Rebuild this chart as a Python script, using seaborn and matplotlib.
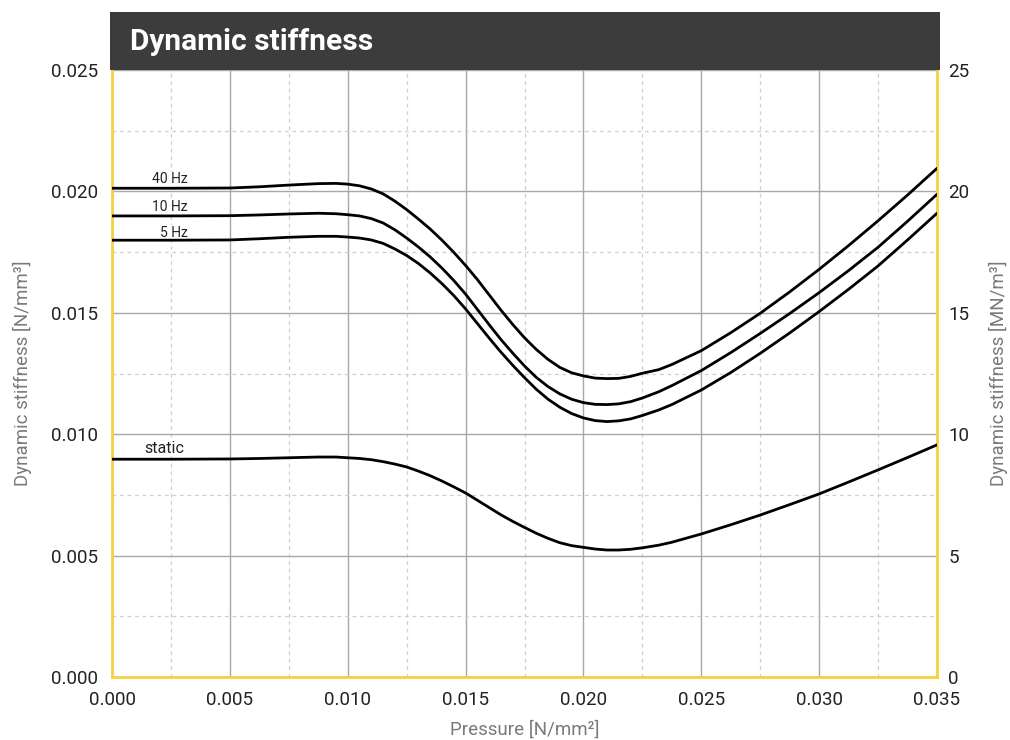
import pandas as pd
import numpy as np
import matplotlib
matplotlib.use("Agg")
import matplotlib.pyplot as plt
from matplotlib.patches import Rectangle
from matplotlib.ticker import MultipleLocator
import seaborn as sns

# valores
pressure = [0.0, 0.0025, 0.005, 0.00625, 0.0075, 0.00875, 0.0095,
            0.010, 0.0105, 0.011, 0.0115, 0.012, 0.0125, 0.013, 0.0135, 0.014, 0.0145,
            0.015, 0.0155, 0.016, 0.0165, 0.017, 0.0175, 0.018, 0.0185, 0.019, 0.0195,
            0.020, 0.0205, 0.021, 0.0215, 0.022, 0.0225, 0.0232,
            0.02375, 0.025, 0.02625, 0.0275, 0.02875, 0.030, 0.03125, 0.0325, 0.03375, 0.035]
hz40 = [0.02013, 0.02013, 0.02014, 0.02019, 0.02026, 0.02032, 0.02033,
        0.02030, 0.02023, 0.02010, 0.01990, 0.01960, 0.01925, 0.01886, 0.01845, 0.01799, 0.01749,
        0.01695, 0.01637, 0.01574, 0.01511, 0.01452, 0.01397, 0.01349, 0.01308, 0.01275, 0.01253,
        0.01240, 0.01231, 0.01229, 0.01230, 0.01238, 0.01251, 0.01266,
        0.01287, 0.01344, 0.01418, 0.01498, 0.01586, 0.01679, 0.01777, 0.01879, 0.01985, 0.02095]
hz10 = [0.01899, 0.01899, 0.01900, 0.01903, 0.01907, 0.01910, 0.01908,
        0.01904, 0.01899, 0.01888, 0.01870, 0.01842, 0.01808, 0.01771, 0.01730, 0.01684, 0.01633,
        0.01577, 0.01514, 0.01451, 0.01390, 0.01334, 0.01281, 0.01234, 0.01196, 0.01166, 0.01144,
        0.01130, 0.01123, 0.01122, 0.01125, 0.01134, 0.01149, 0.01175,
        0.01200, 0.01262, 0.01336, 0.01415, 0.01497, 0.01583, 0.01674, 0.01770, 0.01877, 0.01988]
hz5 = [0.01799, 0.01799, 0.01800, 0.01805, 0.01811, 0.01815, 0.01815,
       0.01812, 0.01808, 0.01800, 0.01786, 0.01763, 0.01736, 0.01703, 0.01664, 0.01620, 0.01571,
       0.01516, 0.01456, 0.01396, 0.01338, 0.01284, 0.01233, 0.01185, 0.01144, 0.01111, 0.01085,
       0.01067, 0.01056, 0.01052, 0.01055, 0.01063, 0.01077, 0.01100,
       0.01122, 0.01182, 0.01254, 0.01333, 0.01417, 0.01505, 0.01597, 0.01693, 0.01800, 0.01910]
static = [0.00897, 0.00897, 0.00898, 0.00900, 0.00903, 0.00906, 0.00906,
          0.00903, 0.00900, 0.00895, 0.00887, 0.00877, 0.00865, 0.00848, 0.00829, 0.00807, 0.00783,
          0.00758, 0.00728, 0.00698, 0.00668, 0.00641, 0.00616, 0.00592, 0.00571, 0.00553, 0.00541,
          0.00534, 0.00527, 0.00523, 0.00523, 0.00526, 0.00532, 0.00543,
          0.00555, 0.00589, 0.00627, 0.00667, 0.00710, 0.00754, 0.00803, 0.00853, 0.00904, 0.00956]

series = {"40 Hz": hz40, "10 Hz": hz10, "5 Hz": hz5, "static": static}
df = pd.concat([pd.DataFrame({"pressure": pressure, "stiffness": v, "curve": k})
                for k, v in series.items()], ignore_index=True)

sns.set_style("white")
plt.rcParams["font.family"] = ["Roboto", "DejaVu Sans"]

yellow = "#f7d23e"
grey_txt = "#7a7a7a"

fig = plt.figure(figsize=(10.1, 7.4), dpi=100)
ax = fig.add_axes([112 / 1010, 1 - 677 / 740, 825 / 1010, 607 / 740])

sns.lineplot(data=df, x="pressure", y="stiffness", hue="curve",
             palette={k: "black" for k in series}, linewidth=2.0,
             legend=False, ax=ax, zorder=3, solid_joinstyle="round")

ax.set_xlim(0, 0.035)
ax.set_ylim(0, 0.025)
ax.xaxis.set_major_locator(MultipleLocator(0.005))
ax.xaxis.set_minor_locator(MultipleLocator(0.0025))
ax.yaxis.set_major_locator(MultipleLocator(0.005))
ax.yaxis.set_minor_locator(MultipleLocator(0.0025))
ax.xaxis.set_major_formatter(lambda v, p: f"{v:.3f}")
ax.yaxis.set_major_formatter(lambda v, p: f"{v:.3f}")
ax.grid(which="major", color="#a8a8a8", linewidth=1.0, linestyle="-")
ax.grid(which="minor", color="#cfcfcf", linewidth=0.9, linestyle=(0, (3, 3)))
ax.set_axisbelow(True)
ax.tick_params(which="both", length=0, labelsize=13.5, colors="#222222")
ax.tick_params(axis="x", pad=10)
ax.tick_params(axis="y", pad=10)
ax.set_xlabel("Pressure [N/mm²]", color=grey_txt, fontsize=13.5, labelpad=8)
ax.set_ylabel("Dynamic stiffness [N/mm³]", color=grey_txt, fontsize=13.5, labelpad=14)

for s in ["left", "right", "bottom"]:
    ax.spines[s].set_color(yellow)
    ax.spines[s].set_linewidth(2)
ax.spines["top"].set_visible(False)

# eje derecho en MN/m3
ax2 = ax.twinx()
ax2.set_ylim(0, 25)
ax2.yaxis.set_major_locator(MultipleLocator(5))
ax2.tick_params(length=0, labelsize=13.5, colors="#222222", pad=8)
ax2.set_ylabel("Dynamic stiffness [MN/m³]", color=grey_txt, fontsize=13.5, labelpad=14)
for s in ["left", "right", "bottom", "top"]:
    ax2.spines[s].set_visible(False)

# etiquetas de las curvas
labels = {"40 Hz": (0.00246, 0.0205), "10 Hz": (0.00246, 0.01935),
          "5 Hz": (0.00263, 0.0183), "static": (0.0022, 0.00943)}
for k, (lx, ly) in labels.items():
    ax.text(lx, ly, k, fontsize=10 if k != "static" else 11.5, ha="center", va="center",
            color="#222222", zorder=2.5,
            bbox=dict(facecolor="white", edgecolor="none", pad=0.5))

# barra del titulo
fig.patches.append(Rectangle((110 / 1010, 1 - 70 / 740), 830 / 1010, 58 / 740,
                             transform=fig.transFigure, facecolor="#3c3c3c",
                             edgecolor="none", zorder=5))
fig.text(130 / 1010, 1 - 42 / 740, "Dynamic stiffness", color="white", fontsize=21.5,
         fontweight="bold", va="center", ha="left", zorder=6)

fig.savefig("out.png", dpi=100)
